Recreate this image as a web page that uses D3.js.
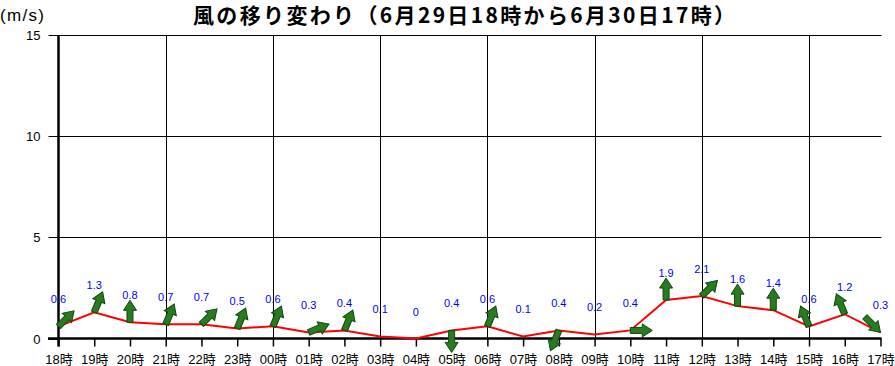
<!DOCTYPE html>
<html><head><meta charset="utf-8">
<script src="https://cdn.jsdelivr.net/npm/d3@7"></script>
<style>body{margin:0;background:#fff}svg{display:block}</style>
</head><body>
<svg id="c" width="895" height="366"></svg>
<script>
const titleText = "風の移り変わり（6月29日18時から6月30日17時）";
const unitText = "(m/s)";
const hours = ["18時","19時","20時","21時","22時","23時","00時","01時","02時","03時","04時","05時","06時","07時","08時","09時","10時","11時","12時","13時","14時","15時","16時","17時"];
const speeds = [0.6,1.3,0.8,0.7,0.7,0.5,0.6,0.3,0.4,0.1,0,0.4,0.6,0.1,0.4,0.2,0.4,1.9,2.1,1.6,1.4,0.6,1.2,0.3];
// direction the arrow points (degrees clockwise from north); null = no arrow
const directions = [45,22.5,0,22.5,45,22.5,22.5,67.5,22.5,null,null,180,22.5,null,202.5,null,90,0,45,0,0,337.5,337.5,135];
const speedLabels = ["0.6","1.3","0.8","0.7","0.7","0.5","0.6","0.3","0.4","0.1","0","0.4","0.6","0.1","0.4","0.2","0.4","1.9","2.1","1.6","1.4","0.6","1.2","0.3"];
const yTicks = [0,5,10,15];

const svg = d3.select("#c");
const mLeft = 58.5, mRight = 880.5, mTop = 35, mBottom = 338.5;
const x = d3.scalePoint().domain(hours).range([mLeft, mRight]);
const y = d3.scaleLinear().domain([0,15]).range([mBottom, mTop]);
const font = "'Liberation Sans','Noto Sans CJK JP',sans-serif";

// title
svg.append("text").attr("x", 193).attr("y", 23)
  .attr("font-family","'Noto Sans CJK JP',sans-serif").attr("font-weight","700")
  .attr("font-size", 21).attr("textLength", 542).attr("lengthAdjust","spacing")
  .text(titleText);
svg.append("text").attr("x", 0).attr("y", 21)
  .attr("font-family", font).attr("font-size", 17)
  .attr("textLength", 44).attr("lengthAdjust","spacing").text(unitText);

// horizontal grid lines with ticks
const yAxis = d3.axisLeft(y).tickValues(yTicks).tickSize(10).tickFormat(d3.format("d"));
const gy = svg.append("g").attr("transform", `translate(${mLeft},0)`).call(yAxis);
gy.select(".domain").remove();
gy.selectAll(".tick line").attr("stroke","#000");
gy.selectAll(".tick text").attr("font-family", font).attr("font-size", 13).attr("fill","#000").attr("x",-18);
svg.append("g").selectAll("line").data(yTicks.filter(d=>d>0)).join("line")
  .attr("x1", mLeft).attr("x2", mRight+1).attr("y1", d=>Math.round(y(d))+0.5).attr("y2", d=>Math.round(y(d))+0.5)
  .attr("stroke","#000").attr("stroke-width",1);
gy.selectAll(".tick").attr("transform", d=>`translate(0,${Math.round(y(d))+0.5})`);

// vertical grid lines every 3 hours
svg.append("g").selectAll("line").data(hours.filter((h,i)=>i%3===0 && i>0)).join("line")
  .attr("x1", d=>Math.round(x(d))+0.5).attr("x2", d=>Math.round(x(d))+0.5)
  .attr("y1", mTop).attr("y2", mBottom).attr("stroke","#000").attr("stroke-width",1);

// x axis
const xAxis = d3.axisBottom(x).tickSize(8).tickPadding(8);
const gx = svg.append("g").attr("transform", `translate(0,${mBottom})`).call(xAxis);
gx.select(".domain").remove();
gx.selectAll(".tick line").attr("stroke","#000").attr("stroke-width",1.5);
gx.selectAll(".tick text").attr("font-family", font).attr("font-size", 13).attr("fill","#000");
// thick axes
svg.append("line").attr("x1", 48).attr("x2", mRight+1).attr("y1", mBottom).attr("y2", mBottom)
  .attr("stroke","#000").attr("stroke-width",2.5);
svg.append("line").attr("x1", mLeft).attr("x2", mLeft).attr("y1", mTop).attr("y2", mBottom+8)
  .attr("stroke","#000").attr("stroke-width",2.5);

// red line
const data = hours.map((h,i)=>({h, v:speeds[i], d:directions[i], lab:speedLabels[i]}));
svg.append("path").datum(data)
  .attr("d", d3.line().x(d=>x(d.h)).y(d=>y(d.v)))
  .attr("fill","none").attr("stroke","#ff0000").attr("stroke-width",2);

// arrows
const L = 22;
const arrowPath = "M-3,0 L-3,-12 L-6.5,-12 L0,-22 L6.5,-12 L3,-12 L3,0 Z";
svg.append("g").selectAll("path").data(data.filter(d=>d.d!==null)).join("path")
  .attr("d", arrowPath)
  .attr("transform", d=>{
    let px = x(d.h), py = y(d.v);
    const rad = d.d*Math.PI/180;
    const dx = Math.sin(rad)*L, dy = -Math.cos(rad)*L;
    if (px + dx > mRight + 4) { px -= dx; py -= dy; }
    return `translate(${px},${py}) rotate(${d.d})`;
  })
  .attr("fill","#2a7a22").attr("stroke","#0b4a0b").attr("stroke-width",1);

// value labels
svg.append("g").selectAll("text").data(data).join("text")
  .attr("x", d=>x(d.h)).attr("y", d=>y(d.v)-23)
  .attr("text-anchor","middle").attr("font-family", font).attr("font-size", 11)
  .attr("fill","#0000ff").text(d=>d.lab);
</script>
</body></html>
